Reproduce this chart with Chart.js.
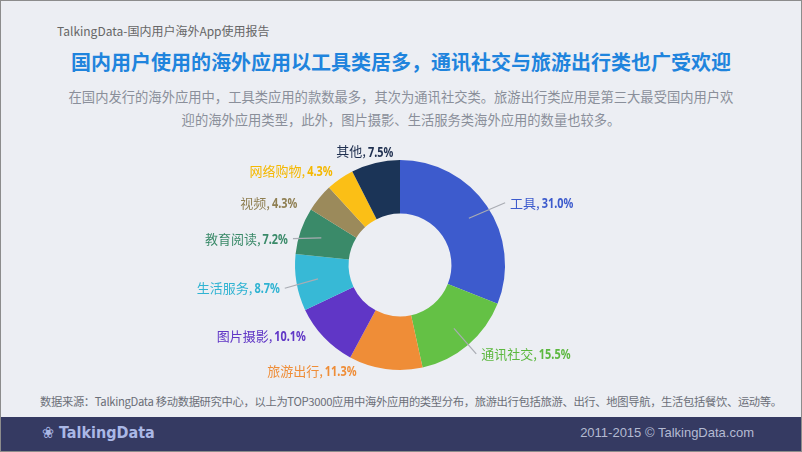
<!DOCTYPE html>
<html>
<head>
<meta charset="utf-8">
<script src="https://cdn.jsdelivr.net/npm/chart.js@4"></script>
<style>
  html, body { margin: 0; padding: 0; }
  body { width: 802px; height: 452px; position: relative; overflow: hidden; background: #eceef3;
         font-family: "Noto Sans CJK SC", "Noto Sans", sans-serif; }
  .frame { position: absolute; left: 0; top: 0; width: 800px; height: 450px; border: 1px solid #8c8c8c; }
  .txt { position: absolute; white-space: nowrap; }
  #head { left: 57px; top: 22px; font-size: 12px; color: #666; }
  #title { left: 0; width: 802px; text-align: center; top: 47px; font-size: 20px; font-weight: bold; color: #1f84dd; }
  .sub { left: 0; width: 802px; text-align: center; font-size: 13.3px; color: #8a8f9a; }
  #note { left: 40px; top: 393px; font-size: 11.3px; letter-spacing: -0.33px; color: #6b6f78; }
  #foot { position: absolute; left: 1px; top: 417px; width: 800px; height: 34px; background: #353a62; }
  #logo { left: 42px; top: 423px; font-size: 16px; font-weight: bold; color: #aab8e6; font-family: "DejaVu Sans Condensed", "Liberation Sans Narrow", sans-serif; }
  #copy { right: 48px; top: 425px; font-size: 13px; color: #b4bad2; font-family: "Liberation Sans", sans-serif; }
  #wrap { position: absolute; left: 150px; top: 130px; width: 500px; height: 280px; }
</style>
</head>
<body>
<div class="frame"></div>
<div class="txt" id="head">TalkingData-国内用户海外App使用报告</div>
<div class="txt" id="title">国内用户使用的海外应用以工具类居多，通讯社交与旅游出行类也广受欢迎</div>
<div class="txt sub" style="top:87px">在国内发行的海外应用中，工具类应用的款数最多，其次为通讯社交类。旅游出行类应用是第三大最受国内用户欢</div>
<div class="txt sub" style="top:110px">迎的海外应用类型，此外，图片摄影、生活服务类海外应用的数量也较多。</div>
<div class="txt" id="note">数据来源：TalkingData 移动数据研究中心，以上为TOP3000应用中海外应用的类型分布，旅游出行包括旅游、出行、地图导航，生活包括餐饮、运动等。</div>
<div id="foot"></div>
<div class="txt" id="logo">&#10048; TalkingData</div>
<div class="txt" id="copy">2011-2015 © TalkingData.com</div>
<div id="wrap"><canvas id="pie" width="500" height="280"></canvas></div>
<script>
const categories = ["工具", "通讯社交", "旅游出行", "图片摄影", "生活服务", "教育阅读", "视频", "网络购物", "其他"];
const shares = [31.0, 15.5, 11.3, 10.1, 8.7, 7.2, 4.3, 4.3, 7.5];
const colors = ["#3d5bcd", "#64c145", "#ef8d37", "#6036c6", "#37b9d6", "#3a8a69", "#9b8a5b", "#fbbf16", "#1b3457"];
const textColors = ["#3d5bcd", "#5cb83f", "#ef8d37", "#6036c6", "#2fb3d2", "#3a8a69", "#8f7f52", "#f5b800", "#1f2f4f"];

// label placement tweaks (px) and which labels get a leader line
const nudges = [[5, 9], [-1, -8], [-26, -20], [-2, -16], [5, 2], [8, 15], [-5, 19], [5, 10], [23, 10]];
const leaders = [true, true, false, false, true, true, false, false, false];

const labelPlugin = {
  id: "sliceLabels",
  afterDatasetsDraw(chart) {
    const ctx = chart.ctx;
    const arcs = chart.getDatasetMeta(0).data;
    ctx.save();
    arcs.forEach((arc, i) => {
      const p = arc.getProps(["x", "y", "startAngle", "endAngle", "innerRadius", "outerRadius"], true);
      const mid = (p.startAngle + p.endAngle) / 2;
      const cos = Math.cos(mid), sin = Math.sin(mid);
      const right = cos >= 0 && i < 2;
      const ax = p.x + cos * (p.outerRadius + 22) + nudges[i][0];
      const ay = p.y + sin * (p.outerRadius + 22) + nudges[i][1];

      const name = categories[i] + ",";
      const val = shares[i].toFixed(1) + "%";
      ctx.font = "13px 'Noto Sans CJK SC'";
      const w1 = ctx.measureText(name).width;
      ctx.font = "bold 14px 'Noto Sans'";
      const w2 = ctx.measureText(val).width * 0.78;
      const total = w1 + 2 + w2;
      const x0 = right ? ax : ax - total;

      if (leaders[i]) {
        const r0 = (p.innerRadius + p.outerRadius) / 2 + 5;
        ctx.strokeStyle = "#a9acb3";
        ctx.lineWidth = 1.2;
        ctx.beginPath();
        ctx.moveTo(p.x + cos * r0, p.y + sin * r0);
        ctx.lineTo(right ? x0 - 5 : x0 + total + 5, ay);
        ctx.stroke();
      }

      ctx.fillStyle = textColors[i];
      ctx.textBaseline = "middle";
      ctx.textAlign = "left";
      ctx.font = "13px 'Noto Sans CJK SC'";
      ctx.fillText(name, x0, ay);
      ctx.save();
      ctx.translate(x0 + w1 + 2, ay);
      ctx.scale(0.78, 1);
      ctx.font = "bold 14px 'Noto Sans'";
      ctx.fillText(val, 0, 1);
      ctx.restore();
    });
    ctx.restore();
  }
};

new Chart(document.getElementById("pie"), {
  type: "doughnut",
  data: {
    labels: categories,
    datasets: [
      {
        data: shares,
        backgroundColor: colors,
        borderWidth: 0,
      },
    ],
  },
  options: {
    responsive: false,
    animation: false,
    cutout: "49%",
    layout: { padding: { top: 30, bottom: 40 } },
    plugins: {
      legend: { display: false },
      tooltip: { enabled: false },
    },
  },
  plugins: [labelPlugin],
});
</script>
</body>
</html>
